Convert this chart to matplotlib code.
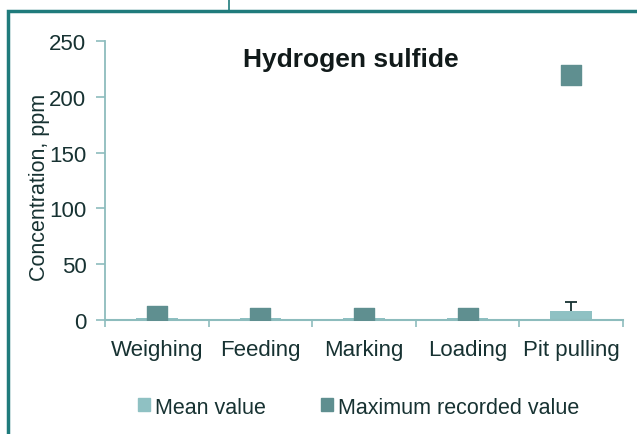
import numpy as np
import matplotlib
matplotlib.use("Agg")
import matplotlib.pyplot as plt
from matplotlib.patches import Rectangle
from matplotlib.lines import Line2D

plt.rcParams['font.family'] = ['Liberation Sans', 'DejaVu Sans']

# data
tasks = ["Weighing", "Feeding", "Marking", "Loading", "Pit pulling"]
mean_value = [1.5, 1.5, 1.5, 1.5, 8.5]
max_value = [4, 2, 2, 2, 220]
mean_err_upper = [0, 0, 0, 0, 7.5]

bar_color = "#8fc1c3"
max_color = "#5f8f90"
axis_color = "#8dbcbd"
frame_color = "#1f7b7c"
text_color = "#173232"

fig = plt.figure(figsize=(6.37, 4.35), dpi=100)
ax = fig.add_axes([0.165, 0.262, 0.813, 0.641])

x = np.arange(len(tasks))
ax.bar(x, mean_value, width=0.4, color=bar_color, zorder=2)

# upper-only error bar on the last task
err_top = np.array(mean_value) + np.array(mean_err_upper)
has_err = np.array(mean_err_upper) > 0
ax.vlines(x[has_err], np.array(mean_value)[has_err], err_top[has_err],
          color=text_color, linewidth=1.3, zorder=3)
ax.hlines(err_top[has_err], x[has_err] - 0.06, x[has_err] + 0.06,
          color=text_color, linewidth=1.3, zorder=3)

ax.scatter(x, max_value, marker="s", s=190, color=max_color, zorder=4)

ax.set_xlim(-0.5, len(tasks) - 0.5)
ax.set_ylim(0, 250)
ax.set_yticks([0, 50, 100, 150, 200, 250])
ax.set_xticks(x)
ax.set_xticklabels(tasks)
ax.set_xticks(np.arange(-0.5, len(tasks), 1.0), minor=True)
ax.tick_params(axis="x", which="major", length=0, pad=14, labelsize=16, labelcolor=text_color)
ax.tick_params(axis="x", which="minor", length=5, width=1.2, color=axis_color, direction="out")
ax.tick_params(axis="y", length=6.5, width=1.2, color=axis_color, labelsize=16,
               labelcolor=text_color, pad=7)

for side in ["top", "right"]:
    ax.spines[side].set_visible(False)
ax.spines["left"].set_color(axis_color)
ax.spines["bottom"].set_color(axis_color)
ax.spines["left"].set_linewidth(1.3)
ax.spines["bottom"].set_linewidth(1.5)

ax.set_ylabel("Concentration, ppm", fontsize=15.5, color=text_color)
ax.yaxis.set_label_coords(-0.106, 0.48)
ax.text(0.475, 0.937, "Hydrogen sulfide", transform=ax.transAxes, ha="center", va="center",
        fontsize=19, fontweight="bold", color="#111a1a")

handles = [Rectangle((0, 0), 1, 1, color=bar_color), Rectangle((0, 0), 1, 1, color=max_color)]
fig.legend(handles, ["Mean value", "Maximum recorded value"], loc="center",
           bbox_to_anchor=(0.563, 0.062), ncol=2, frameon=False, fontsize=15.5,
           handlelength=0.55, handleheight=0.55, handletextpad=0.2, columnspacing=2.6,
           labelcolor=text_color)

# frame around the panel
fig.add_artist(Rectangle((8 / 637, -0.1), 1.2, 1 - 12 / 435 + 0.1, transform=fig.transFigure,
                         fill=False, edgecolor=frame_color, linewidth=2.5))
fig.add_artist(Line2D([229 / 637, 229 / 637], [1 - 12 / 435, 1.0], transform=fig.transFigure,
                      color=frame_color, linewidth=1.2))

fig.savefig("out.png", dpi=100)
